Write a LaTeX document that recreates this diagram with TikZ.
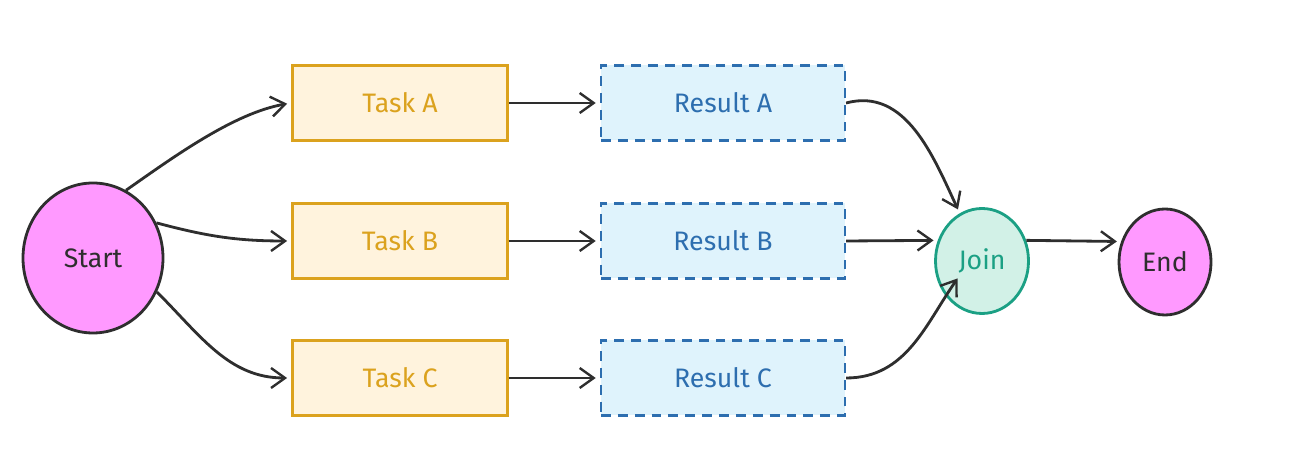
\documentclass[tikz,border=0pt]{standalone}
\usepackage{fontspec}
\setmainfont{Fira Sans}
\usetikzlibrary{arrows.meta,shapes.geometric}
\definecolor{pinkfill}{HTML}{FF99FF}
\definecolor{inkline}{HTML}{2E2E2E}
\definecolor{taskfill}{HTML}{FFF3DD}
\definecolor{taskline}{HTML}{DBA21E}
\definecolor{resfill}{HTML}{DFF3FC}
\definecolor{resline}{HTML}{2D6EAF}
\definecolor{joinfill}{HTML}{D2F1E7}
\definecolor{joinline}{HTML}{1BA084}
\begin{document}
\begin{tikzpicture}[
    every node/.style={inner sep=2pt, font=\fontsize{19}{22}\selectfont},
    endpoint/.style={ellipse, draw=inkline, line width=2pt, fill=pinkfill, text=inkline},
    taskbox/.style={rectangle, draw=taskline, line width=1.7pt, fill=taskfill, text=taskline,
        minimum width=5.375cm, minimum height=1.875cm},
    resultbox/.style={rectangle, draw=resline, line width=1.5pt, dashed, dash pattern=on 7pt off 5pt,
        fill=resfill, text=resline, minimum width=6.1cm, minimum height=1.875cm},
    joinnode/.style={ellipse, draw=joinline, line width=2pt, fill=joinfill, text=joinline,
        minimum width=2.325cm, minimum height=2.625cm},
    flow/.style={draw=inkline, line width=2pt, -{Straight Barb[length=3.5mm,width=5mm,line width=1.7pt]}, shorten >=3pt}
]
    \useasboundingbox (0,0) rectangle (32.4,11.875);

    \node[endpoint, minimum width=3.5cm, minimum height=3.75cm] (start) at (2.325,5.425) {Start};

    \node[taskbox] (taskA) at (10.0,9.3) {Task A};
    \node[taskbox] (taskB) at (10.0,5.85) {Task B};
    \node[taskbox] (taskC) at (10.0,2.425) {Task C};

    \node[resultbox] (resA) at (18.075,9.3) {Result A};
    \node[resultbox] (resB) at (18.075,5.85) {Result B};
    \node[resultbox] (resC) at (18.075,2.425) {Result C};

    \node[joinnode] (join) at (24.55,5.35) {Join};
    \node[endpoint, minimum width=2.3cm, minimum height=2.65cm] (end) at (29.125,5.325) {End};

    \coordinate (joinin) at (24.0,5.0);

    \draw[flow] (start.64) to[out=35,in=190,looseness=0.8] (taskA.west);
    \draw[flow] (start.29) to[out=-15,in=180] (taskB.west);
    \draw[flow] (start.-28) to[out=-45,in=180] (taskC.west);

    \draw[flow] (taskA) -- (resA);
    \draw[flow] (taskB) -- (resB);
    \draw[flow] (taskC) -- (resC);

    \draw[flow] (resA.east) to[out=15,in=115] (join.115);
    \draw[flow] (resB.east) -- (join.155);
    \draw[flow] (resC.east) to[out=0,in=235] (joinin);

    \draw[flow] (join.25) -- (end.155);
\end{tikzpicture}
\end{document}
